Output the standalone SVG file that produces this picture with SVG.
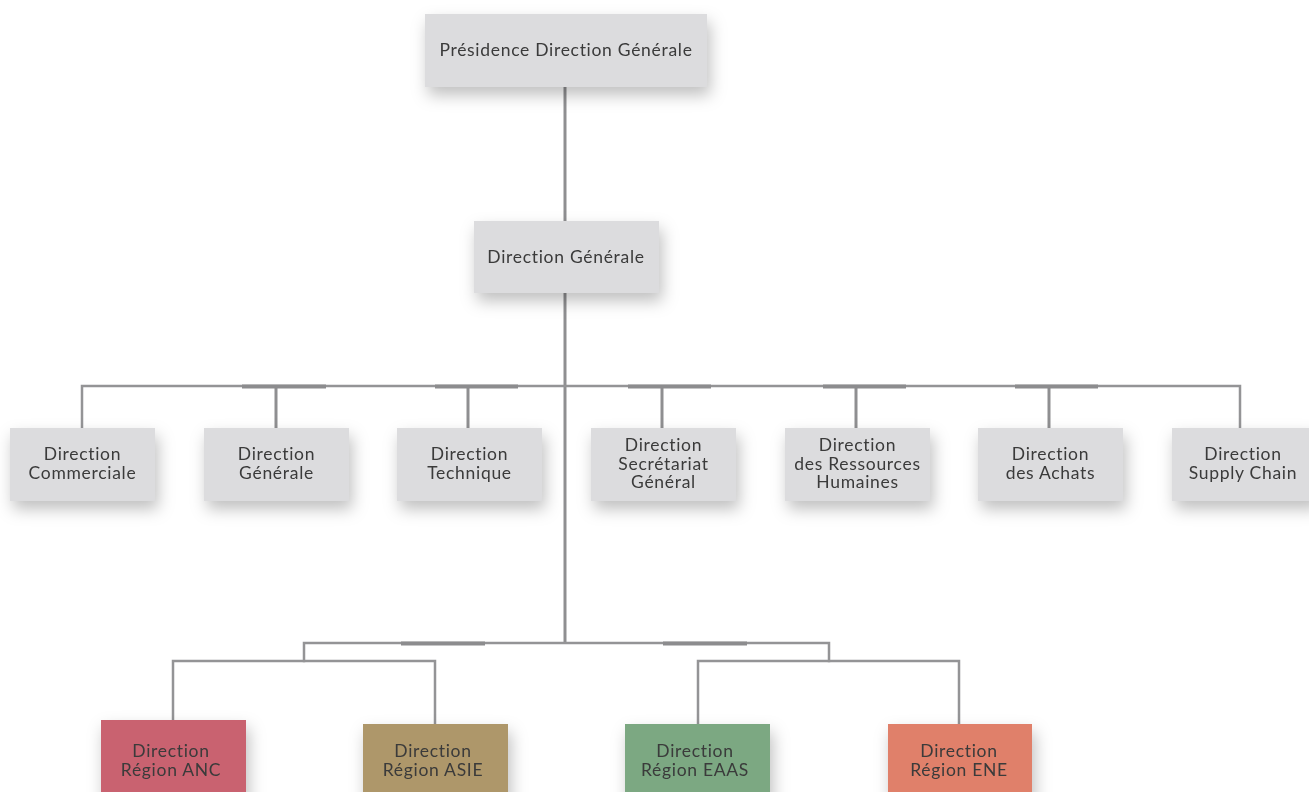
<svg xmlns="http://www.w3.org/2000/svg" width="1309" height="792" viewBox="0 0 1309 792">
<style>
.box{fill:#dcdcde;}
.t{font-family:"Lato","Liberation Sans",sans-serif;font-size:17.5px;fill:#3a3a3a;text-anchor:middle;letter-spacing:0.7px;font-variant-ligatures:none;font-feature-settings:"liga" 0;}
.ln{stroke:#949496;stroke-width:2.5;fill:none;stroke-linecap:square;}
.lv{stroke:#8f8f91;stroke-width:3;fill:none;}
.thk{stroke:#8c8c8e;stroke-width:4;fill:none;}
</style>
<defs>
<filter id="sh" x="-30%" y="-30%" width="160%" height="190%">
<feDropShadow dx="3" dy="8" stdDeviation="8" flood-color="#000" flood-opacity="0.25"/>
</filter>
</defs>
<rect width="1309" height="792" fill="#ffffff"/>
<g id="connectors">
<line class="lv" x1="565" y1="87" x2="565" y2="221"/>
<line class="lv" x1="565" y1="293" x2="565" y2="643"/>
<polyline class="ln" points="82,428 82,386 1240,386 1240,428"/>
<line class="lv" x1="276" y1="386" x2="276" y2="428"/>
<line class="lv" x1="468" y1="386" x2="468" y2="428"/>
<line class="lv" x1="662" y1="386" x2="662" y2="428"/>
<line class="lv" x1="856" y1="386" x2="856" y2="428"/>
<line class="lv" x1="1049" y1="386" x2="1049" y2="428"/>
<line class="thk" x1="242" y1="386.5" x2="326" y2="386.5"/>
<line class="thk" x1="435" y1="386.5" x2="518" y2="386.5"/>
<line class="thk" x1="628" y1="386.5" x2="711" y2="386.5"/>
<line class="thk" x1="823" y1="386.5" x2="906" y2="386.5"/>
<line class="thk" x1="1015" y1="386.5" x2="1098" y2="386.5"/>
<polyline class="ln" points="304,661 304,643 829,643 829,661"/>
<line class="thk" x1="401" y1="643.5" x2="485" y2="643.5"/>
<line class="thk" x1="663" y1="643.5" x2="747" y2="643.5"/>
<polyline class="ln" points="173,720 173,661 435,661 435,724"/>
<polyline class="ln" points="698,724 698,661 959,661 959,724"/>
</g>
<g id="n-pdg" filter="url(#sh)">
<rect class="box" x="425" y="14" width="282" height="73"/>
<text class="t" x="566" y="56">Présidence Direction Générale</text>
</g>
<g id="n-dg" filter="url(#sh)">
<rect class="box" x="474" y="221" width="185" height="72"/>
<text class="t" x="566" y="263">Direction Générale</text>
</g>
<g id="n-com" filter="url(#sh)">
<rect class="box" x="10" y="428" width="145" height="73"/>
<text class="t" x="82.5" y="460">Direction</text>
<text class="t" x="82.5" y="479">Commerciale</text>
</g>
<g id="n-gen" filter="url(#sh)">
<rect class="box" x="204" y="428" width="145" height="73"/>
<text class="t" x="276.5" y="460">Direction</text>
<text class="t" x="276.5" y="479">Générale</text>
</g>
<g id="n-tech" filter="url(#sh)">
<rect class="box" x="397" y="428" width="145" height="73"/>
<text class="t" x="469.5" y="460">Direction</text>
<text class="t" x="469.5" y="479">Technique</text>
</g>
<g id="n-sg" filter="url(#sh)">
<rect class="box" x="591" y="428" width="145" height="73"/>
<text class="t" x="663.5" y="451">Direction</text>
<text class="t" x="663.5" y="469.5">Secrétariat</text>
<text class="t" x="663.5" y="488">Général</text>
</g>
<g id="n-rh" filter="url(#sh)">
<rect class="box" x="785" y="428" width="145" height="73"/>
<text class="t" x="857.5" y="451">Direction</text>
<text class="t" x="857.5" y="469.5">des Ressources</text>
<text class="t" x="857.5" y="488">Humaines</text>
</g>
<g id="n-ach" filter="url(#sh)">
<rect class="box" x="978" y="428" width="145" height="73"/>
<text class="t" x="1050.5" y="460">Direction</text>
<text class="t" x="1050.5" y="479">des Achats</text>
</g>
<g id="n-sc" filter="url(#sh)">
<rect class="box" x="1172" y="428" width="145" height="73"/>
<text class="t" x="1243" y="460">Direction</text>
<text class="t" x="1243" y="479">Supply Chain</text>
</g>
<g id="n-anc" filter="url(#sh)">
<rect x="101" y="720" width="145" height="80" fill="#c96270"/>
<text class="t" x="171" y="757">Direction</text>
<text class="t" x="171" y="775.5">Région ANC</text>
</g>
<g id="n-asie" filter="url(#sh)">
<rect x="363" y="724" width="145" height="76" fill="#ae976a"/>
<text class="t" x="433" y="757">Direction</text>
<text class="t" x="433" y="775.5">Région ASIE</text>
</g>
<g id="n-eaas" filter="url(#sh)">
<rect x="625" y="724" width="145" height="76" fill="#7ba882"/>
<text class="t" x="695" y="757">Direction</text>
<text class="t" x="695" y="775.5">Région EAAS</text>
</g>
<g id="n-ene" filter="url(#sh)">
<rect x="888" y="724" width="144" height="76" fill="#e0806a"/>
<text class="t" x="959" y="757">Direction</text>
<text class="t" x="959" y="775.5">Région ENE</text>
</g>
</svg>
